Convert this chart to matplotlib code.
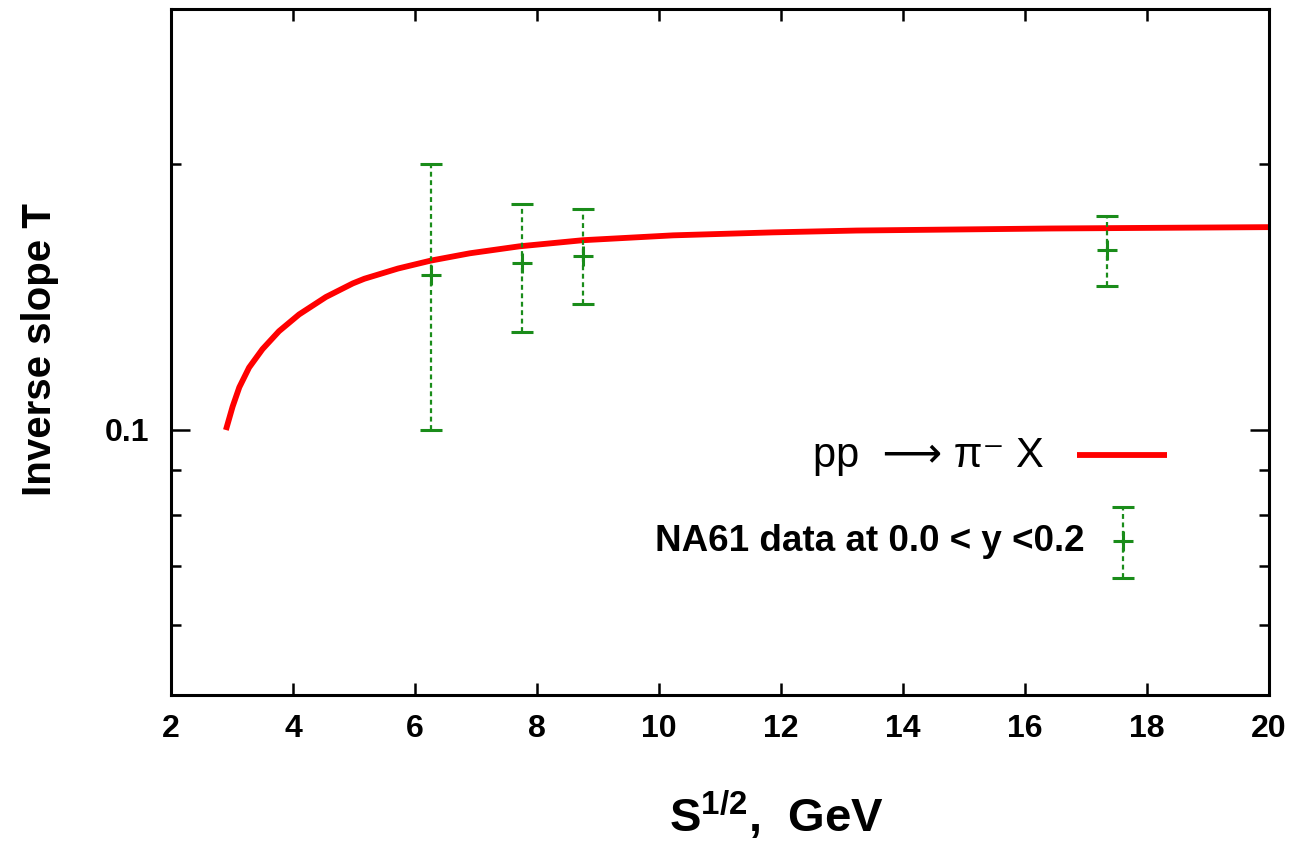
import matplotlib
matplotlib.use('Agg')
import matplotlib.pyplot as plt
from matplotlib.ticker import FixedLocator, NullFormatter, FixedFormatter

plt.rcParams['font.family'] = ['Liberation Sans', 'DejaVu Sans']
plt.rcParams['mathtext.fontset'] = 'custom'
plt.rcParams['mathtext.rm'] = 'Liberation Sans:bold'
plt.rcParams['mathtext.bf'] = 'Liberation Sans:bold'

# model curve pp -> pi- X
curve_x = [2.90, 3.01, 3.12, 3.28, 3.50, 3.77, 4.10, 4.54, 4.98, 5.17, 5.72,
           6.26, 6.90, 7.71, 8.75, 10.23, 11.87, 13.24, 16.42, 20.0]
curve_y = [0.0999, 0.1062, 0.1117, 0.1176, 0.1234, 0.1293, 0.1351, 0.1414,
           0.1465, 0.1483, 0.1523, 0.1555, 0.1585, 0.1614, 0.1640, 0.1661,
           0.1674, 0.1682, 0.1691, 0.1697]

# NA61 data, 0.0 < y < 0.2
na61_x = [6.26, 7.76, 8.75, 17.34]
na61_y = [0.1497, 0.1546, 0.1574, 0.1598]
na61_hi = [0.2000, 0.1803, 0.1778, 0.1747]
na61_lo = [0.1000, 0.1291, 0.1388, 0.1455]

red = '#ff0000'
green = '#1a8c1a'

fig = plt.figure(figsize=(12.97, 8.43), dpi=100)
ax = fig.add_axes([171/1297, 1-695/843, 1098/1297, 686/843])

ax.plot(curve_x, curve_y, color=red, lw=4.2, solid_capstyle='butt',
        solid_joinstyle='round')

err = [[y - lo for y, lo in zip(na61_y, na61_lo)],
       [hi - y for y, hi in zip(na61_y, na61_hi)]]
eb = ax.errorbar(na61_x, na61_y, yerr=err, fmt='+', color=green, ms=15, mew=2.2,
                 ecolor=green, elinewidth=1.6, capsize=8, capthick=2.2)
eb[2][0].set_linestyle((0, (2.2, 1.6)))

ax.set_yscale('log')
ax.set_xlim(2, 20)
ax.set_ylim(0.05, 0.3)

ax.set_xticks(range(2, 21, 2))
ax.xaxis.set_minor_locator(FixedLocator([]))
ax.yaxis.set_major_locator(FixedLocator([0.1]))
ax.yaxis.set_major_formatter(FixedFormatter(['0.1']))
ax.yaxis.set_minor_locator(FixedLocator([0.06, 0.07, 0.08, 0.09, 0.2]))
ax.yaxis.set_minor_formatter(NullFormatter())

for s in ax.spines.values():
    s.set_linewidth(2.2)
ax.tick_params(axis='x', which='major', direction='in', top=True, length=8.5,
               width=1.8, pad=14, labelsize=23)
ax.tick_params(axis='y', which='major', direction='in', right=True, length=14,
               width=1.8, pad=16, labelsize=23)
ax.tick_params(axis='y', which='minor', direction='in', right=True, length=7.5,
               width=1.8)
for lab in ax.get_xticklabels() + ax.get_yticklabels():
    lab.set_fontweight('bold')

fig.text(40/1297, 1-350/843, 'Inverse slope T', rotation=90, ha='center',
         va='center', fontsize=29, fontweight='bold')
fig.text(776/1297, 1-815/843, r'S$^{1/2}$,  GeV', ha='center', va='center',
         fontsize=34, fontweight='bold')

# key
ax.text(0.795, 0.348, 'pp  \u27f6 \u03c0\u207b X', transform=ax.transAxes,
        ha='right', va='center', fontsize=30)
ax.plot([0.8251, 0.9071], [0.3499, 0.3499], transform=ax.transAxes,
        color=red, lw=4.2, solid_capstyle='butt')
ax.text(0.8324, 0.2235, 'NA61 data at 0.0 < y <0.2', transform=ax.transAxes,
        ha='right', va='center', fontsize=26.5, fontweight='bold')
ax.plot([0.867, 0.867], [0.1706, 0.2741], transform=ax.transAxes, color=green,
        lw=1.6, ls=(0, (2.2, 1.6)))
ax.plot([0.867, 0.867], [0.1706, 0.2741], transform=ax.transAxes, color=green,
        ls='none', marker='_', ms=16, mew=2.2)
ax.plot([0.867], [0.2245], transform=ax.transAxes, color=green, ls='none',
        marker='+', ms=15, mew=2.2)

fig.savefig('out.png', dpi=100)
